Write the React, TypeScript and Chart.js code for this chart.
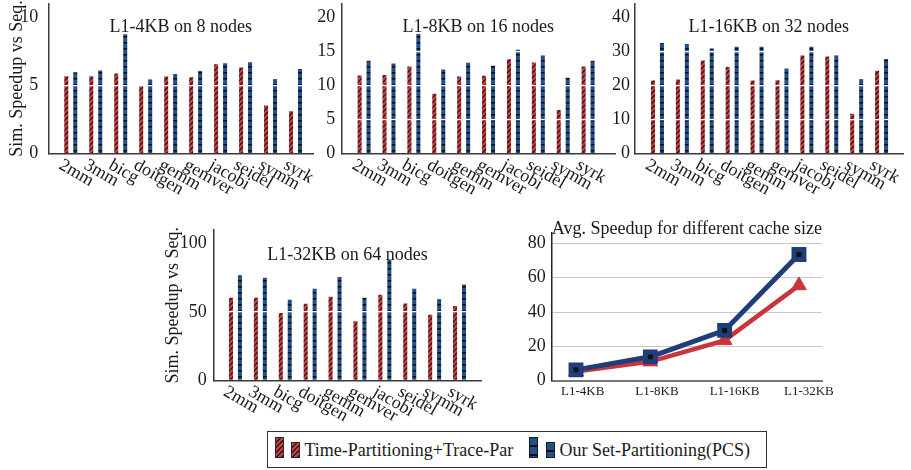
import React, { useEffect, useRef } from 'react';
import { Chart, registerables } from 'chart.js';

Chart.register(...registerables);

// ---------------- data ----------------
const benchmarks = ['2mm', '3mm', 'bicg', 'doitgen', 'gemm', 'gemver', 'jacobi', 'seidel', 'symm', 'syrk'];
const seriesNames = ['Time-Partitioning+Trace-Par', 'Our Set-Partitioning(PCS)'];

const tp4KB = [5.67, 5.67, 5.87, 4.94, 5.65, 5.6, 6.55, 6.3, 3.53, 3.1];
const pcs4KB = [5.96, 6.09, 8.74, 5.43, 5.82, 6.04, 6.62, 6.69, 5.45, 6.2];
const tp8KB = [11.44, 11.5, 12.75, 8.76, 11.3, 11.4, 13.8, 13.35, 6.38, 12.75];
const pcs8KB = [13.6, 13.2, 17.5, 12.3, 13.3, 12.85, 15.2, 14.35, 11.1, 13.6];
const tp16KB = [21.4, 21.7, 27.3, 25.4, 21.4, 21.5, 28.7, 28.4, 11.7, 24.3];
const pcs16KB = [32.4, 32.1, 30.8, 31.3, 31.3, 24.9, 31.3, 28.7, 21.8, 27.7];
const tp32KB = [60.4, 60.4, 49.2, 56.0, 61.1, 43.3, 62.6, 56.2, 47.9, 54.3];
const pcs32KB = [76.8, 75.0, 58.9, 67.0, 75.6, 60.4, 88.3, 67.0, 59.4, 70.2];

const panelTitles = ['L1-4KB on 8 nodes', 'L1-8KB on 16 nodes', 'L1-16KB on 32 nodes', 'L1-32KB on 64 nodes'];
const yAxisTitle = 'Sim. Speedup vs Seq.';

const cacheSizes = ['L1-4KB', 'L1-8KB', 'L1-16KB', 'L1-32KB'];
const avgTP = [5.3, 11.1, 23.5, 55.5];
const avgPCS = [6.3, 13.9, 29.3, 73.5];
const avgTitle = 'Avg. Speedup for different cache size';

// ---------------- styles ----------------
const FONT = '"Liberation Serif", "Times New Roman", Times, serif';
const TEXT = '#1a1a1a';
const AXIS = '#3a3a3a';
const RED = '#d13a3e';
const BLUE = '#22508c';
const LINE_RED = '#c9353a';
const LINE_BLUE = '#1f3d78';

Chart.defaults.font.family = FONT;

type Box = { left: number; top: number; width: number; height: number };
type Area = { left: number; top: number; right: number; bottom: number };

function hatchRed(): CanvasPattern | string {
  const c = document.createElement('canvas');
  c.width = 5;
  c.height = 5;
  const g = c.getContext('2d');
  if (!g) return RED;
  g.fillStyle = RED;
  g.fillRect(0, 0, 5, 5);
  g.strokeStyle = '#1a1a1a';
  g.lineWidth = 1.3;
  g.beginPath();
  for (const o of [-5, 0, 5]) {
    g.moveTo(o, 5);
    g.lineTo(o + 5, 0);
  }
  g.stroke();
  return g.createPattern(c, 'repeat') || RED;
}

function dashBlue(): CanvasPattern | string {
  const c = document.createElement('canvas');
  c.width = 6;
  c.height = 6;
  const g = c.getContext('2d');
  if (!g) return BLUE;
  g.fillStyle = BLUE;
  g.fillRect(0, 0, 6, 6);
  g.fillStyle = '#111111';
  g.fillRect(0, 0, 6, 1.6);
  return g.createPattern(c, 'repeat') || BLUE;
}

function textPlugin(opts: { title: string; titleY: number; labels?: string[]; box: Box }) {
  return {
    id: 'panelText',
    afterDraw(chart: any) {
      const { ctx, chartArea, scales } = chart;
      ctx.save();
      ctx.fillStyle = TEXT;
      ctx.font = `18px ${FONT}`;
      ctx.textAlign = 'center';
      ctx.textBaseline = 'alphabetic';
      ctx.fillText(opts.title, (chartArea.left + chartArea.right) / 2, opts.titleY - opts.box.top);
      if (opts.labels) {
        ctx.textAlign = 'left';
        ctx.textBaseline = 'top';
        opts.labels.forEach((lab, i) => {
          const px = scales.x.getPixelForValue(i);
          ctx.save();
          ctx.translate(px - 6, chartArea.bottom + 2.5);
          ctx.rotate(Math.PI / 6);
          ctx.fillText(lab, 0, 0);
          ctx.restore();
        });
      }
      ctx.restore();
    },
  };
}

type PanelSpec = {
  box: Box;
  area: Area;
  xMin: number;
  xMax: number;
  yMax: number;
  yStep: number;
  tickPad: number;
  showYTitle: boolean;
  yTitlePad: number;
  title: string;
  titleY: number;
  tp: number[];
  pcs: number[];
};

function barConfig(p: PanelSpec) {
  const yWidth = p.area.left - p.box.left;
  const padTop = p.area.top - p.box.top;
  const padRight = p.box.left + p.box.width - p.area.right;
  const xHeight = p.box.top + p.box.height - p.area.bottom;
  return {
    type: 'bar',
    data: {
      datasets: [
        {
          label: seriesNames[0],
          data: benchmarks.map((_, i) => ({ x: i, y: p.tp[i] })),
          backgroundColor: hatchRed(),
          borderWidth: 0,
          categoryPercentage: 0.72,
          barPercentage: 0.45,
        },
        {
          label: seriesNames[1],
          data: benchmarks.map((_, i) => ({ x: i, y: p.pcs[i] })),
          backgroundColor: dashBlue(),
          borderWidth: 0,
          categoryPercentage: 0.72,
          barPercentage: 0.45,
        },
      ],
    },
    options: {
      animation: false,
      responsive: false,
      maintainAspectRatio: false,
      layout: { padding: { left: 0, top: padTop, right: padRight, bottom: 0 } },
      plugins: { legend: { display: false }, tooltip: { enabled: false }, title: { display: false } },
      scales: {
        x: {
          type: 'linear',
          min: p.xMin,
          max: p.xMax,
          offset: false,
          grid: { display: false, drawTicks: false },
          ticks: { display: false },
          border: { display: true, color: AXIS, width: 1.5, z: 2 },
          afterFit: (s: any) => {
            s.height = xHeight;
            s.paddingLeft = 0;
            s.paddingRight = 0;
          },
        },
        y: {
          type: 'linear',
          min: 0,
          max: p.yMax,
          ticks: {
            stepSize: p.yStep,
            includeBounds: false,
            padding: p.tickPad,
            color: TEXT,
            font: { family: FONT, size: 18 },
          },
          grid: {
            color: (c: any) => (c.tick && c.tick.value === 0 ? 'rgba(0,0,0,0)' : '#ffffff'),
            lineWidth: 1.2,
            drawTicks: false,
            z: 1,
          },
          border: { display: true, color: AXIS, width: 1.5, z: 2 },
          title: {
            display: p.showYTitle,
            text: yAxisTitle,
            color: TEXT,
            font: { family: FONT, size: 18 },
            padding: { top: p.yTitlePad, bottom: 0 },
          },
          afterFit: (s: any) => {
            s.width = yWidth;
            s.paddingTop = 0;
            s.paddingBottom = 0;
          },
        },
      },
    },
    plugins: [textPlugin({ title: p.title, titleY: p.titleY, labels: benchmarks, box: p.box })],
  };
}

function lineConfig(box: Box, area: Area) {
  const yWidth = area.left - box.left;
  const padTop = area.top - box.top;
  const padRight = box.left + box.width - area.right;
  const xHeight = box.top + box.height - area.bottom;
  return {
    type: 'line',
    data: {
      datasets: [
        {
          label: seriesNames[0],
          data: avgTP.map((v, i) => ({ x: i, y: v })),
          borderColor: LINE_RED,
          backgroundColor: LINE_RED,
          borderWidth: 4.5,
          pointStyle: 'triangle',
          pointRadius: 8.5,
          pointBorderWidth: 1,
          pointBorderColor: LINE_RED,
          pointBackgroundColor: LINE_RED,
          order: 1,
        },
        {
          label: seriesNames[1],
          data: avgPCS.map((v, i) => ({ x: i, y: v })),
          borderColor: LINE_BLUE,
          backgroundColor: LINE_BLUE,
          borderWidth: 5,
          pointStyle: 'rect',
          pointRadius: 7,
          pointBorderWidth: 5,
          pointBorderColor: LINE_BLUE,
          pointBackgroundColor: '#111111',
          order: 0,
        },
      ],
    },
    options: {
      animation: false,
      responsive: false,
      maintainAspectRatio: false,
      layout: { padding: { left: 0, top: padTop, right: padRight, bottom: 0 } },
      plugins: { legend: { display: false }, tooltip: { enabled: false }, title: { display: false } },
      scales: {
        x: {
          type: 'linear',
          min: -0.327,
          max: 3.31,
          afterBuildTicks: (s: any) => {
            s.ticks = cacheSizes.map((_, i) => ({ value: i }));
          },
          ticks: {
            callback: (v: any) => cacheSizes[v],
            color: TEXT,
            font: { family: FONT, size: 13 },
            padding: 3,
            align: 'start',
            labelOffset: -15,
            maxRotation: 0,
            autoSkip: false,
          },
          grid: { display: false, drawTicks: false },
          border: { display: true, color: '#777777', width: 2, z: 2 },
          afterFit: (s: any) => {
            s.height = xHeight;
            s.paddingLeft = 0;
            s.paddingRight = 0;
          },
        },
        y: {
          type: 'linear',
          min: 0,
          max: 86,
          ticks: {
            stepSize: 20,
            includeBounds: false,
            padding: 6,
            color: TEXT,
            font: { family: FONT, size: 18 },
          },
          grid: { color: '#c8c8c8', lineWidth: 1, drawTicks: false },
          border: { display: true, color: '#222222', width: 1.5, z: 2 },
          afterFit: (s: any) => {
            s.width = yWidth;
            s.paddingTop = 0;
            s.paddingBottom = 0;
          },
        },
      },
    },
    plugins: [textPlugin({ title: avgTitle, titleY: 234, box })],
  };
}

function ChartBox({ box, build }: { box: Box; build: () => any }) {
  const ref = useRef<HTMLCanvasElement>(null);
  useEffect(() => {
    if (!ref.current) return;
    const chart = new Chart(ref.current, build());
    return () => chart.destroy();
  }, []);
  return (
    <canvas
      ref={ref}
      width={box.width}
      height={box.height}
      style={{ position: 'absolute', left: box.left, top: box.top, width: box.width, height: box.height }}
    />
  );
}

const panels: PanelSpec[] = [
  {
    box: { left: 0, top: 0, width: 330, height: 205 },
    area: { left: 48.3, top: 3.3, right: 313, bottom: 153.7 },
    xMin: -0.9, xMax: 9.7, yMax: 11, yStep: 5, tickPad: 10,
    showYTitle: true, yTitlePad: 6, title: panelTitles[0], titleY: 32,
    tp: tp4KB, pcs: pcs4KB,
  },
  {
    box: { left: 305, top: 0, width: 320, height: 205 },
    area: { left: 341.7, top: 3.3, right: 615, bottom: 153.7 },
    xMin: -0.9, xMax: 10.08, yMax: 22, yStep: 5, tickPad: 6.5,
    showYTitle: false, yTitlePad: 0, title: panelTitles[1], titleY: 32,
    tp: tp8KB, pcs: pcs8KB,
  },
  {
    box: { left: 600, top: 0, width: 311, height: 205 },
    area: { left: 634.3, top: 3.3, right: 903, bottom: 153.7 },
    xMin: -0.93, xMax: 9.86, yMax: 44, yStep: 10, tickPad: 4.3,
    showYTitle: false, yTitlePad: 0, title: panelTitles[2], titleY: 32,
    tp: tp16KB, pcs: pcs16KB,
  },
  {
    box: { left: 150, top: 220, width: 350, height: 210 },
    area: { left: 213.3, top: 230, right: 481.7, bottom: 380.3 },
    xMin: -0.89, xMax: 9.89, yMax: 110, yStep: 50, tickPad: 6.6,
    showYTitle: true, yTitlePad: 12, title: panelTitles[3], titleY: 260,
    tp: tp32KB, pcs: pcs32KB,
  },
];

const lineBox: Box = { left: 500, top: 215, width: 411, height: 190 };
const lineArea: Area = { left: 551.7, top: 233, right: 822, bottom: 380.7 };

const redSwatch: React.CSSProperties = {
  position: 'absolute',
  boxSizing: 'border-box',
  border: '1px solid #2a2a2a',
  background: `repeating-linear-gradient(135deg, ${RED} 0px, ${RED} 2.2px, #222 2.2px, #222 3.6px)`,
};
const blueSwatch: React.CSSProperties = {
  position: 'absolute',
  boxSizing: 'border-box',
  border: '1px solid #1a1a1a',
  background: `repeating-linear-gradient(180deg, ${BLUE} 0px, ${BLUE} 7px, #111 7px, #111 9px)`,
};

export default function App() {
  return (
    <div style={{ position: 'absolute', left: 0, top: 0, width: 911, height: 470, background: '#ffffff', overflow: 'hidden' }}>
      {panels.map((p, i) => (
        <ChartBox key={i} box={p.box} build={() => barConfig(p)} />
      ))}
      <ChartBox box={lineBox} build={() => lineConfig(lineBox, lineArea)} />
      <div
        style={{
          position: 'absolute',
          left: 267,
          top: 431,
          width: 500,
          height: 37,
          border: '1.5px solid #333',
          boxSizing: 'border-box',
          fontFamily: FONT,
          fontSize: 18,
          color: TEXT,
        }}
      >
        <span style={{ ...redSwatch, left: 6.5, top: 4.5, width: 9, height: 21 }} />
        <span style={{ ...redSwatch, left: 23.2, top: 9.8, width: 8.5, height: 16 }} />
        <span style={{ position: 'absolute', left: 36.5, top: 0.5, lineHeight: '35px', whiteSpace: 'nowrap' }}>{seriesNames[0]}</span>
        <span style={{ ...blueSwatch, left: 260.8, top: 4.5, width: 9, height: 21 }} />
        <span style={{ ...blueSwatch, left: 278.2, top: 9.8, width: 8.5, height: 16 }} />
        <span style={{ position: 'absolute', left: 291.5, top: 0.5, lineHeight: '35px', whiteSpace: 'nowrap' }}>{seriesNames[1]}</span>
      </div>
    </div>
  );
}
